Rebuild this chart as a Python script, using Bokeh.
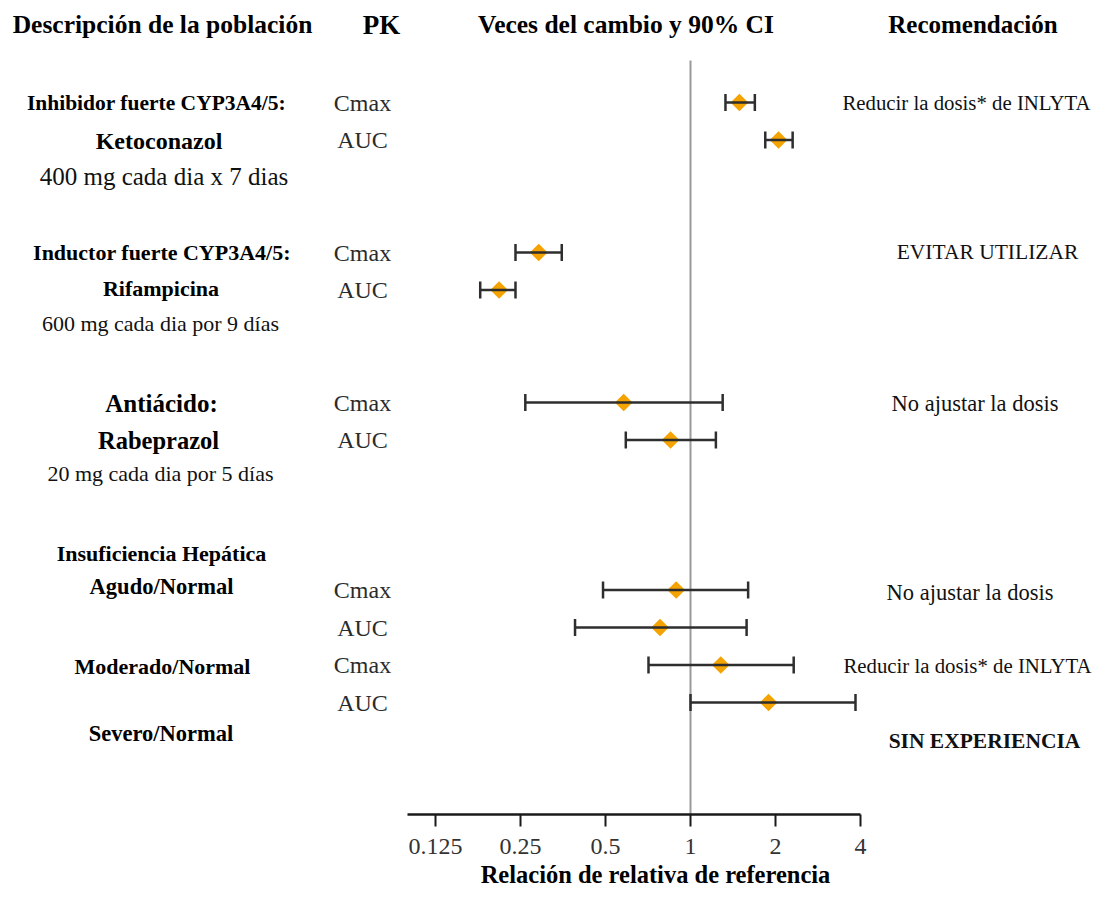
import math
from bokeh.plotting import figure
from bokeh.models import (ColumnDataSource, Range1d, FixedTicker, CustomJSTickFormatter,
                          Whisker, TeeHead)
from bokeh.core.properties import value, field
from bokeh.embed import file_html
from bokeh.resources import INLINE

# ---------------- data ----------------
pk_metric = ["Cmax", "AUC", "Cmax", "AUC", "Cmax", "AUC", "Cmax", "AUC", "Cmax", "AUC"]
fold_change = [1.49, 2.05, 0.29, 0.21, 0.58, 0.85, 0.89, 0.78, 1.28, 1.89]
ci_lower = [1.33, 1.84, 0.24, 0.18, 0.26, 0.59, 0.49, 0.39, 0.71, 1.00]
ci_upper = [1.69, 2.30, 0.35, 0.24, 1.30, 1.23, 1.60, 1.58, 2.32, 3.84]
reference_ratio = 1

tick_values = [0.125, 0.25, 0.5, 1, 2, 4]
tick_labels = ["0.125", "0.25", "0.5", "1", "2", "4"]

headers = ["Descripción de la población", "PK", "Veces del cambio y 90% CI", "Recomendación"]
population_labels = [
    "Inhibidor fuerte CYP3A4/5:", "Ketoconazol", "400 mg cada dia x 7 dias",
    "Inductor fuerte CYP3A4/5:", "Rifampicina", "600 mg cada dia por 9 días",
    "Antiácido:", "Rabeprazol", "20 mg cada dia por 5 días",
    "Insuficiencia Hepática", "Agudo/Normal", "Moderado/Normal", "Severo/Normal",
]
recommendations = [
    "Reducir la dosis* de INLYTA", "EVITAR UTILIZAR", "No ajustar la dosis",
    "No ajustar la dosis", "Reducir la dosis* de INLYTA", "SIN EXPERIENCIA",
]
x_title = "Relación de relativa de referencia"

# ---------------- layout ----------------
W, H = 1096, 887
ROW0, ROW_STEP = 102.0, 37.5      # pixel y of first row, row spacing
ONE_PX, OCT_PX = 690.0, 85.0      # pixel x of ratio 1, pixels per doubling
row_slot = [0, 1, 4, 5, 8, 9, 13, 14, 15, 16]


def px_x(px):
    return 2 ** ((px - ONE_PX) / OCT_PX)


def px_y(py):
    return (py - ROW0) / ROW_STEP


FONT = "Liberation Serif"

p = figure(width=W, height=H, x_axis_type="log",
           x_range=Range1d(px_x(0), px_x(W)),
           y_range=Range1d(px_y(H), px_y(0)),
           output_backend="svg", toolbar_location=None,
           min_border=0, y_axis_location=None)
p.grid.visible = False
p.outline_line_color = None
p.background_fill_color = "white"

ax = p.xaxis[0]
ax.fixed_location = px_y(814)
ax.bounds = (px_x(407), 4)
ax.ticker = FixedTicker(ticks=tick_values)
ax.formatter = CustomJSTickFormatter(args=dict(vals=tick_values, labs=tick_labels), code="""
    const i = vals.findIndex(v => Math.abs(v - tick) < 1e-9);
    return i >= 0 ? labs[i] : '';
""")
ax.axis_line_color = "#1a1a1a"
ax.axis_line_width = 2.5
ax.major_tick_line_color = "#1a1a1a"
ax.major_tick_line_width = 2
ax.major_tick_out = 12
ax.major_tick_in = 0
ax.minor_tick_line_color = None
ax.major_label_text_font = FONT
ax.major_label_text_font_size = "24px"
ax.major_label_text_color = "#333333"
ax.major_label_standoff = 12

# reference line at ratio 1
p.segment(x0=[reference_ratio], y0=[px_y(60)], x1=[reference_ratio], y1=[px_y(814)],
          line_color="#9a9a9a", line_width=2)

src = ColumnDataSource(dict(y=row_slot, m=fold_change, lo=ci_lower, hi=ci_upper, metric=pk_metric))
wk = Whisker(source=src, base="y", lower="lo", upper="hi", dimension="width",
             line_color="#2e2e2e", line_width=2.5, level="glyph",
             lower_head=TeeHead(size=17, line_color="#2e2e2e", line_width=2.5),
             upper_head=TeeHead(size=17, line_color="#2e2e2e", line_width=2.5))
p.add_layout(wk)
p.scatter("m", "y", source=src, marker="square", angle=math.pi / 4, size=12.5,
          fill_color="#F4A300", line_color=None)

# PK column
p.text(x=px_x(362), y="y", text="metric", source=src, text_font=value(FONT),
       text_font_size="24px", text_color="#2b2b2b", text_align="center", text_baseline="middle")

# other texts
txt_x, txt_y, txt_size, txt_style, txt_color, txt = [], [], [], [], [], []


def add(label, cx, cy, size, style, color="#000000"):
    txt.append(label)
    txt_x.append(px_x(cx))
    txt_y.append(px_y(cy))
    txt_size.append(f"{size}px")
    txt_style.append(style)
    txt_color.append(color)


hdr_pos = [(162, 25.5), (381, 27), (625.5, 25.5), (972.5, 25)]
for lab, (cx, sz) in zip(headers, hdr_pos):
    add(lab, cx, 24, sz, "bold")

pop_pos = [(156, 102, 21.5, "bold"), (158.5, 140, 24, "bold"), (163.5, 176, 25, "normal"),
           (161.5, 252, 22, "bold"), (160.5, 288, 22, "bold"), (160, 323, 22, "normal"),
           (161, 403, 25, "bold"), (158, 440, 24.5, "bold"), (160, 473, 22, "normal"),
           (161, 553, 22, "bold"), (161, 586, 22.5, "bold"), (162, 666, 22, "bold"),
           (160.5, 733, 22.5, "bold")]
for lab, (cx, cy, sz, st) in zip(population_labels, pop_pos):
    add(lab, cx, cy, sz, st, "#000000" if st == "bold" else "#111111")

rec_pos = [(966, 102, 20.8, "normal"), (987, 251, 21.5, "normal"), (974.5, 403, 22.5, "normal"),
           (969.5, 592, 22.5, "normal"), (967, 665, 20.8, "normal"), (984, 740, 21.5, "bold")]
for lab, (cx, cy, sz, st) in zip(recommendations, rec_pos):
    add(lab, cx, cy, sz, st, "#111111")

add(x_title, 655, 874, 24.5, "bold")

tsrc = ColumnDataSource(dict(x=txt_x, y=txt_y, text=txt, size=txt_size, style=txt_style, color=txt_color))
p.text(x="x", y="y", text="text", source=tsrc, text_font=value(FONT),
       text_font_size=field("size"), text_font_style=field("style"), text_color=field("color"),
       text_align="center", text_baseline="middle")

open("out.html", "w").write(file_html(p, INLINE))
